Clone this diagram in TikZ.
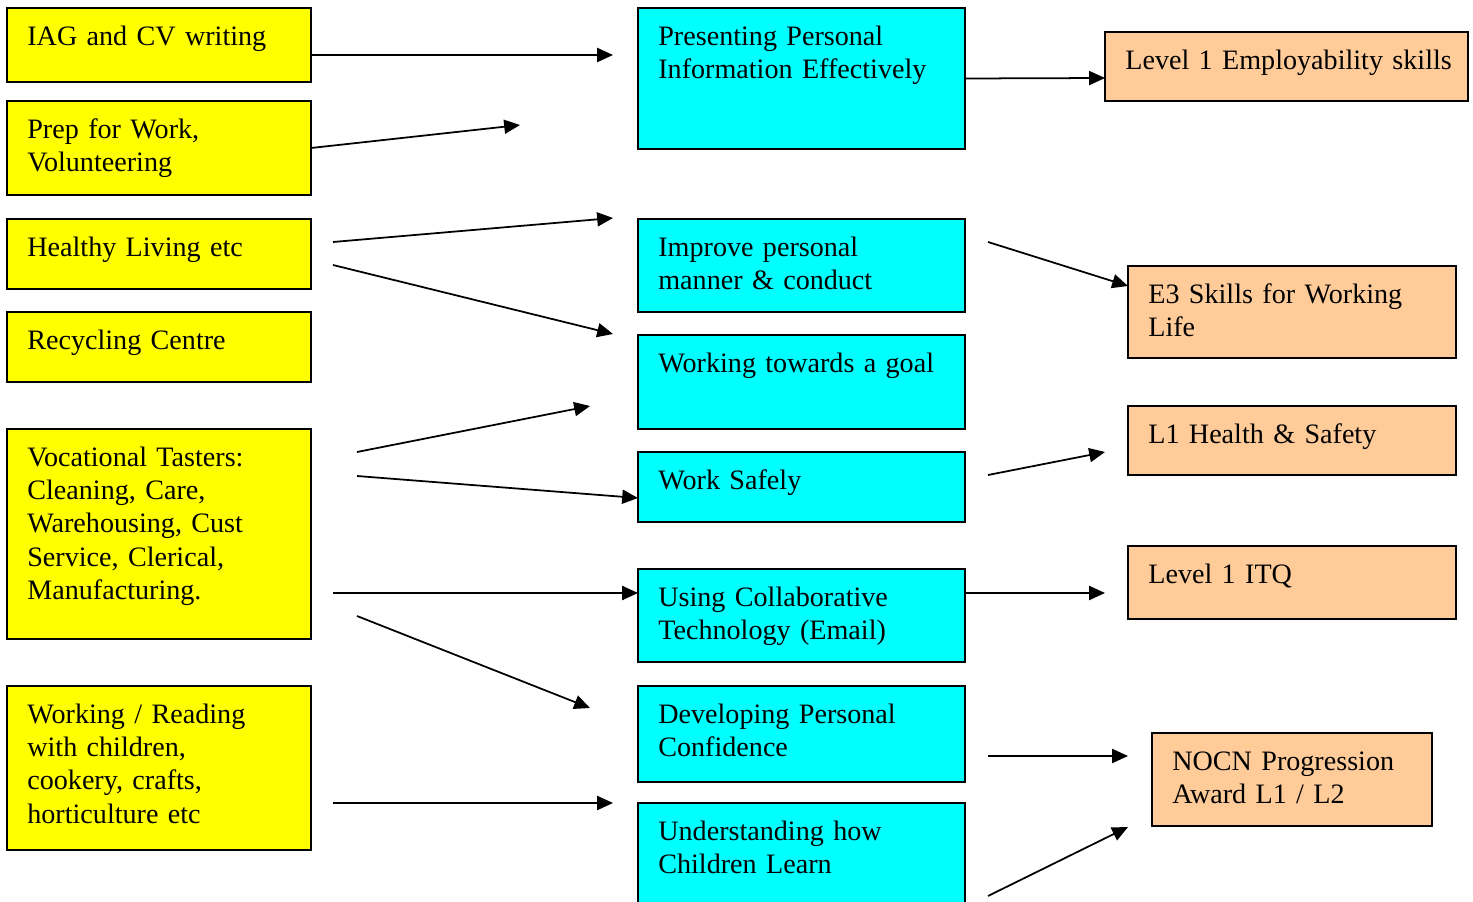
\documentclass[tikz,border=0pt]{standalone}
\usepackage{fontspec}
\setmainfont{Liberation Serif}
\usetikzlibrary{positioning,arrows.meta}
\definecolor{boxyellow}{HTML}{FFFF00}
\definecolor{boxcyan}{HTML}{00FFFF}
\definecolor{boxorange}{HTML}{FFCC99}
\tikzset{
	box/.style={draw=black, line width=1pt, inner sep=0pt, outer sep=0pt},
	ybox/.style={box, fill=boxyellow, minimum width=6.08cm},
	cbox/.style={box, fill=boxcyan, minimum width=6.54cm},
	obox/.style={box, fill=boxorange, minimum width=6.56cm},
	txt/.style={anchor=base west, xshift=0.4cm, yshift=-0.74cm, inner sep=0pt,
		text width=7cm, align=left, font=\fontsize{16}{19}\selectfont},
	arr/.style={-{Triangle[length=9pt,width=8pt]}, line width=1pt}
}
\begin{document}
\begin{tikzpicture}
		\useasboundingbox (0,0) rectangle (29.46,-18.04);
		
		% left column
		\node [ybox, minimum height=1.48cm, anchor=north west, label={[txt]north west:{IAG and CV writing}}] (iag) at (0.14,-0.16) {};
		\node [ybox, minimum height=1.88cm, below right=0.38cm and 0cm of iag.south west, label={[txt]north west:{Prep for Work,\\Volunteering}}] (prep) {};
		\node [ybox, minimum height=1.40cm, below right=0.48cm and 0cm of prep.south west, label={[txt]north west:{Healthy Living etc}}] (healthy) {};
		\node [ybox, minimum height=1.40cm, below right=0.46cm and 0cm of healthy.south west, label={[txt]north west:{Recycling Centre}}] (recycle) {};
		\node [ybox, minimum height=4.20cm, below right=0.94cm and 0cm of recycle.south west, label={[txt]north west:{Vocational Tasters:\\Cleaning, Care,\\Warehousing, Cust\\Service, Clerical,\\Manufacturing.}}] (voc) {};
		\node [ybox, minimum height=3.28cm, below right=0.94cm and 0cm of voc.south west, label={[txt]north west:{Working / Reading\\with children,\\cookery, crafts,\\horticulture etc}}] (kids) {};
		
		% middle column
		\node [cbox, minimum height=2.82cm, anchor=north west, label={[txt]north west:{Presenting Personal\\Information Effectively}}] (present) at (12.76,-0.16) {};
		\node [cbox, minimum height=1.86cm, below right=1.40cm and 0cm of present.south west, label={[txt]north west:{Improve personal\\manner \& conduct}}] (manner) {};
		\node [cbox, minimum height=1.88cm, below right=0.46cm and 0cm of manner.south west, label={[txt]north west:{Working towards a goal}}] (goal) {};
		\node [cbox, minimum height=1.40cm, below right=0.46cm and 0cm of goal.south west, label={[txt]north west:{Work Safely}}] (safe) {};
		\node [cbox, minimum height=1.86cm, below right=0.94cm and 0cm of safe.south west, label={[txt]north west:{Using Collaborative\\Technology (Email)}}] (collab) {};
		\node [cbox, minimum height=1.92cm, below right=0.48cm and 0cm of collab.south west, label={[txt]north west:{Developing Personal\\Confidence}}] (confid) {};
		\node [cbox, minimum height=2.40cm, below right=0.42cm and 0cm of confid.south west, label={[txt]north west:{Understanding how\\Children Learn}}] (learn) {};
		
		% right column
		\node [obox, minimum width=7.26cm, minimum height=1.38cm, anchor=north west, label={[txt]north west:{Level 1 Employability skills}}] (employ) at (22.10,-0.64) {};
		\node [obox, minimum height=1.84cm, anchor=north west, label={[txt]north west:{E3 Skills for Working\\Life}}] (ethree) at (22.56,-5.32) {};
		\node [obox, minimum height=1.38cm, below right=0.96cm and 0cm of ethree.south west, label={[txt]north west:{L1 Health \& Safety}}] (hands) {};
		\node [obox, minimum height=1.46cm, below right=1.42cm and 0cm of hands.south west, label={[txt]north west:{Level 1 ITQ}}] (itq) {};
		\node [obox, minimum width=5.60cm, minimum height=1.86cm, anchor=north west, label={[txt]north west:{NOCN Progression\\Award L1 / L2}}] (nocn) at (23.04,-14.66) {};
		
		% loose arrow ends
		\coordinate (iagend) at (12.26,-1.10);
		\coordinate (prepend) at (10.40,-2.50);
		\coordinate (healthyA) at (6.66,-4.84);
		\coordinate (healthyAend) at (12.26,-4.36);
		\coordinate (healthyB) at (6.66,-5.30);
		\coordinate (healthyBend) at (12.26,-6.68);
		\coordinate (vocA) at (7.14,-9.04);
		\coordinate (vocAend) at (11.80,-8.12);
		\coordinate (vocB) at (7.14,-9.52);
		\coordinate (vocC) at (6.66,-11.86);
		\coordinate (vocD) at (7.14,-12.32);
		\coordinate (vocDend) at (11.80,-14.16);
		\coordinate (kidsA) at (6.66,-16.06);
		\coordinate (kidsAend) at (12.26,-16.06);
		\coordinate (mannerA) at (19.76,-4.84);
		\coordinate (safeA) at (19.76,-9.50);
		\coordinate (safeAend) at (22.10,-9.04);
		\coordinate (collabend) at (22.10,-11.86);
		\coordinate (confidA) at (19.76,-15.12);
		\coordinate (confidAend) at (22.56,-15.12);
		\coordinate (learnA) at (19.76,-17.92);
		\coordinate (learnAend) at (22.56,-16.54);
		
		\draw[arr]
		([yshift=-0.2cm]iag.east) -- (iagend);
		\draw[arr]
		(prep.east) -- (prepend);
		\draw[arr]
		(healthyA) -- (healthyAend);
		\draw[arr]
		(healthyB) -- (healthyBend);
		\draw[arr]
		(vocA) -- (vocAend);
		\draw[arr]
		(vocB) -- ([yshift=-0.22cm]safe.west);
		\draw[arr]
		(vocC) -- ([yshift=0.45cm]collab.west);
		\draw[arr]
		(vocD) -- (vocDend);
		\draw[arr]
		(kidsA) -- (kidsAend);
		
		\draw[arr]
		(present.east) -- ([yshift=-0.23cm]employ.west);
		\draw[arr]
		(mannerA) -- ([yshift=0.52cm]ethree.west);
		\draw[arr]
		(safeA) -- (safeAend);
		\draw[arr]
		([yshift=0.45cm]collab.east) -- (collabend);
		\draw[arr]
		(confidA) -- (confidAend);
		\draw[arr]
		(learnA) -- (learnAend);
		
		\end{tikzpicture}
\end{document}
